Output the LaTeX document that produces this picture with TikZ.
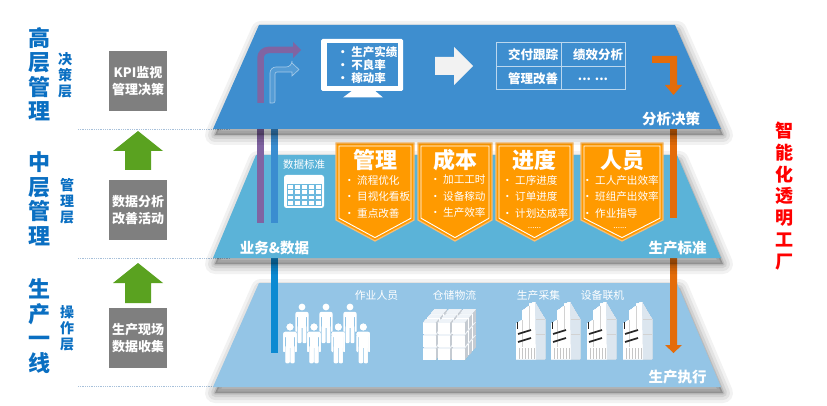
\documentclass[tikz,border=0pt]{standalone}
\usepackage{fontspec}
\setmainfont{Noto Sans CJK SC}
\definecolor{topblue}{HTML}{3E8ECF}
\definecolor{midblue}{HTML}{5BB3D8}
\definecolor{botblue}{HTML}{94C5E6}
\definecolor{leftblue}{HTML}{0A6FC2}
\definecolor{boxgray}{HTML}{7F7F7F}
\definecolor{arrgreen}{HTML}{5AA220}
\definecolor{badgeor}{HTML}{FF9A00}
\definecolor{badgerim}{HTML}{F9BE72}
\definecolor{arror}{HTML}{E46C0A}
\definecolor{barpurple}{HTML}{8064A2}
\definecolor{barblue}{HTML}{3A8DD0}
\definecolor{barbluedeep}{HTML}{0C8AD2}
\definecolor{sepline}{HTML}{A7C0DA}
\definecolor{arrwhite}{HTML}{F2F2F2}
\definecolor{cubetop}{HTML}{EEF3F8}
\definecolor{cubeside}{HTML}{C5CBD2}
\definecolor{machside}{HTML}{DCE6EF}
\definecolor{gridblue}{HTML}{6DB9DE}
\definecolor{smartred}{HTML}{FF0000}

\newcommand\lshadow[4]{%
  \begin{scope}[shift={(2,6)}]
  \foreach \w/\o in {20/0.05,14/0.06,8/0.08,3/0.1}{\draw[line width=\w pt,line join=round,black,opacity=\o] #1 -- #2 -- #3 -- #4 -- cycle;}
  \fill[black,opacity=0.22] #1 -- #2 -- #3 -- #4 -- cycle;
  \end{scope}}

\newcommand\mybadge[4]{%
  \pgfmathsetmacro\bxc{(#2+#3)/2}%
  \fill[badgeor, draw=badgerim, line width=1.2] (#2,143) -- (#3,143) -- (#3,220) -- (\bxc,241) -- (#2,220) -- cycle;
  \draw[white, line width=0.9] ({#2+3},146) -- ({#3-3},146) -- ({#3-3},218.2) -- (\bxc,237.6) -- ({#2+3},218.2) -- cycle;
  \node[badgetitle] (#1) at (\bxc,160) {#4};}

\newcommand\myperson[2]{%
  \begin{scope}[shift={(#1,#2)}]
  \fill[white] (0,0) circle[radius=3.4pt];
  \fill[white, rounded corners=2] (-6.6,4.8) rectangle (6.6,10);
  \fill[white, rounded corners=0.8] (-6.6,8) rectangle (-5.1,25);
  \fill[white, rounded corners=0.8] (5.1,8) rectangle (6.6,25);
  \fill[white] (-4.4,8) rectangle (4.4,21);
  \fill[white, rounded corners=0.8] (-4.4,19) rectangle (-0.5,36);
  \fill[white, rounded corners=0.8] (0.5,19) rectangle (4.4,36);
  \end{scope}}

\newcommand\mymachine[1]{%
  \begin{scope}[shift={(#1,359)}]
  \fill[white] (0,0) -- (0,-35) -- (6,-39) -- (6,-48) -- (13,-53) -- (13,-55) -- (19,-57) -- (20,0) -- cycle;
  \fill[machside] (20,0) -- (19,-57) -- (24,-48) -- (29,-40) -- (29,0) -- cycle;
  \draw[gray!35, line width=0.4] (6,-39) -- (6,-12) (13,-53) -- (13,-30) (20,-40) -- (29,-40) (20,-25) -- (29,-25);
  \draw[black!85, line width=1.7] (2,-25) -- (15,-29);
  \draw[black!85, line width=1.7] (2,-17) -- (15,-21);
  \draw[black!85, line width=1.2] (1.6,-37) -- (1.6,-30);
  \foreach \i in {3,6,9,12,15,18} \draw[gray!45, line width=0.5] (\i,-11) -- (\i,0);
  \end{scope}}

\begin{document}
\begin{tikzpicture}[x=1pt,y=-1pt,
  lefttitle/.style={text=leftblue, font=\fontsize{22}{24.5}\selectfont\bfseries, align=center, inner sep=0},
  leftsub/.style={text=leftblue, font=\fontsize{14}{16}\selectfont\bfseries, align=center, inner sep=0},
  graybox/.style={fill=boxgray, minimum width=58, minimum height=60, inner sep=0, text=white, font=\fontsize{13}{17}\selectfont\bfseries, align=center},
  layerlabel/.style={text=white, font=\fontsize{14.5}{16}\selectfont\bfseries, inner sep=0},
  smalllabel/.style={text=white, font=\fontsize{10.8}{13}\selectfont, inner sep=0},
  badgetitle/.style={text=white, font=\fontsize{22}{24}\selectfont\bfseries, inner sep=0},
  badgeitems/.style={text=white, font=\fontsize{10.6}{16.5}\selectfont, align=left, inner sep=0, anchor=west},
  celltext/.style={text=white, font=\fontsize{12.5}{14}\selectfont\bfseries, inner sep=0},
  greenarrow/.style={fill=arrgreen}]
\fill[white] (0,0) rectangle (827,406);
\useasboundingbox (0,0) rectangle (827,406);

% separators
\foreach \yy in {129,258,386} \draw[sepline, densely dotted, line width=0.8] (78,\yy) -- (230,\yy);

% left column
\node[lefttitle] (t1) at (39,74) {高\\层\\管\\理};
\node[lefttitle] (t2) at (39,199) {中\\层\\管\\理};
\node[lefttitle] (t3) at (39,326) {生\\产\\一\\线};
\node[leftsub] (s1) at (65,75) {决\\策\\层};
\node[leftsub] (s2) at (67,201) {管\\理\\层};
\node[leftsub] (s3) at (67,328) {操\\作\\层};
\node[graybox] (g1) at (138,81) {KPI监视\\管理决策};
\node[graybox] (g2) at (138,210) {数据分析\\改善活动};
\node[graybox] (g3) at (138,338) {生产现场\\数据收集};
\fill[greenarrow] (113,151) -- (138,131) -- (163,151) -- (151,151) -- (151,170) -- (125,170) -- (125,151) -- cycle;
\fill[greenarrow] (113,283) -- (138,263) -- (163,283) -- (151,283) -- (151,303) -- (125,303) -- (125,283) -- cycle;

% right red text
\node[text=smartred, font=\fontsize{18}{21.8}\selectfont\bfseries, align=center, inner sep=0] (smart) at (784,196) {智\\能\\化\\透\\明\\工\\厂};

% ===== bottom layer =====
\lshadow{(213,387)}{(721,387)}{(677,283)}{(259,283)}
\fill[botblue] (213,387) -- (721,387) -- (677,283) -- (259,283) -- cycle;
\node[smalllabel] (l1) at (376.5,295) {作业人员};
\node[smalllabel] (l2) at (454.5,295) {仓储物流};
\node[smalllabel] (l3) at (538.5,295) {生产采集};
\node[smalllabel] (l4) at (602.5,295) {设备联机};
\node[layerlabel] (exec) at (677.5,377) {生产执行};
\foreach \px in {302,326,350} \myperson{\px}{307}
\foreach \px in {290,314,338.3,363.3} \myperson{\px}{327}
\foreach \k in {2,1,0}{\foreach \r in {2,1,0}{\foreach \c in {0,1,2}{
  \begin{scope}[shift={({423+\c*14.5+\k*4},{323+\r*13-\k*4.7})}]
  \fill[cubetop] (0,0) -- (3.4,-4) -- (15.9,-4) -- (12.5,0) -- cycle;
  \fill[cubeside] (12.5,0) -- (15.9,-4) -- (15.9,7) -- (12.5,11) -- cycle;
  \fill[white] (0,0) rectangle (12.5,11);
  \end{scope}}}}
\foreach \mx in {516,551,587,623} \mymachine{\mx}
% bars on bottom layer
\fill[barbluedeep] (271,258) rectangle (278,353);
\fill[arror] (670,258) -- (677,258) -- (677,345) -- (682,345) -- (673.5,353) -- (665,345) -- (670,345) -- cycle;

% ===== middle layer =====
\lshadow{(213,258)}{(721,258)}{(677,155)}{(256,155)}
\fill[midblue] (213,258) -- (721,258) -- (677,155) -- (256,155) -- cycle;
\node[smalllabel, font=\fontsize{10.5}{12}\selectfont] (std) at (304,165) {数据标准};
\fill[white, rounded corners=2.5] (284,175) rectangle (324,208);
\fill[gridblue] (286.7,184.3) rectangle (321.7,206);
\foreach \i in {0,...,4}{\foreach \j in {0,...,3}{
  \fill[white] ({287.6+\i*7},{185.2+\j*5.2}) rectangle ({287.6+\i*7+5.2},{185.2+\j*5.2+3.9});}}
\mybadge{b1}{336}{414}{管理}
\mybadge{b2}{418}{492}{成本}
\mybadge{b3}{496}{573}{进度}
\mybadge{b4}{581}{663}{人员}
\node[badgeitems] (i1) at (344,196.5) {· 流程优化\\· 目视化看板\\· 重点改善};
\node[badgeitems] (i2) at (430,196.5) {· 加工工时\\· 设备稼动\\· 生产效率};
\node[badgeitems] (i3) at (502,196.5) {· 工序进度\\· 订单进度\\· 计划达成率};
\node[badgeitems] (i4) at (582,196.5) {· 工人产出效率\\· 班组产出效率\\· 作业指导};
\node[text=white, font=\fontsize{8}{9}\selectfont, inner sep=0] (d3) at (534.5,228) {......};
\node[text=white, font=\fontsize{8}{9}\selectfont, inner sep=0] (d4) at (620,228) {......};
\node[layerlabel] (biz) at (274.5,248) {业务\&数据};
\node[layerlabel] (pstd) at (677.5,248) {生产标准};
% bars on middle layer
\fill[barpurple] (257,129) rectangle (264,223);
\fill[barblue] (271,129) rectangle (278,223);
\fill[arror] (670,129) rectangle (677,218);

% ===== top layer =====
\lshadow{(213,129)}{(721,129)}{(675,25)}{(259,25)}
\fill[topblue] (213,129) -- (721,129) -- (675,25) -- (259,25) -- cycle;
% arrows
\draw[barpurple, line width=6.5, rounded corners=8] (260.5,103) -- (260.5,50) -- (294,50);
\fill[barpurple] (293,42) -- (301,50) -- (293,58) -- cycle;
\filldraw[fill=topblue!88!white, draw=white!55!topblue, line width=0.6]
  (270,103) [rounded corners=6] -- (270,67) -- (292,67) [sharp corners] -- (292,63) -- (299,69.5) -- (292,76) -- (292,72) [rounded corners=2] -- (275,72) -- (275,103) [sharp corners] -- cycle;
% monitor
\fill[white, rounded corners=1.5] (321,39) rectangle (403,91);
\fill[topblue] (326.7,43.3) rectangle (398.3,86);
\fill[white] (353,90) -- (374,90) -- (383,97.5) -- (343,97.5) -- cycle;
\node[text=white, font=\fontsize{11.5}{13}\selectfont\bfseries, align=left, inner sep=0, anchor=west] (mon) at (337,65) {· 生产实绩\\· 不良率\\· 稼动率};
% big white arrow
\fill[arrwhite] (435,57) -- (454,57) -- (454,47) -- (473,66) -- (454,85) -- (454,75) -- (435,75) -- cycle;
% table
\draw[white!65!topblue, line width=0.9] (496,42) rectangle (625,89) (561,42) -- (561,89) (496,66) -- (625,66);
\node[celltext] (c1) at (533,55) {交付跟踪};
\node[celltext] (c2) at (598,55) {绩效分析};
\node[celltext] (c3) at (533,79) {管理改善};
\node[celltext] (c4) at (593,79) {... ...};
% orange L arrow
\fill[arror] (652,56) -- (677,56) -- (677,85) -- (682,85) -- (673.5,95) -- (665,85) -- (670,85) -- (670,63) -- (652,63) -- cycle;
\node[layerlabel] (ana) at (671,119) {分析决策};
\end{tikzpicture}
\end{document}
